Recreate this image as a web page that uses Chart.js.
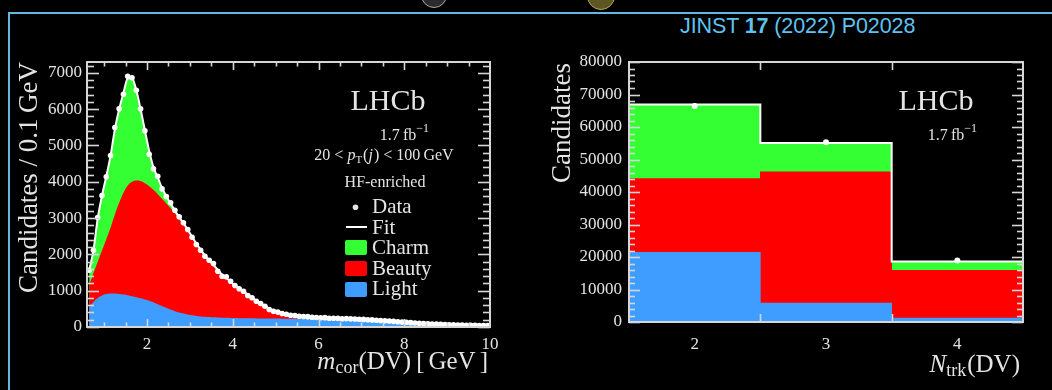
<!DOCTYPE html>
<html>
<head>
<meta charset="utf-8">
<script src="https://cdn.jsdelivr.net/npm/chart.js@4.4.1/dist/chart.umd.min.js"></script>
<style>
  html, body { margin: 0; padding: 0; background: #000; width: 1052px; height: 390px; overflow: hidden; }
  #frame { position: absolute; left: 8px; top: 12px; width: 1100px; height: 420px;
           border-left: 2px solid #63b7e2; border-top: 2px solid #63b7e2; }
  #ref { position: absolute; left: 680px; top: 14px; font: 21.5px "Liberation Sans", Arial, sans-serif;
         color: #5ec3f0; letter-spacing: -0.1px; white-space: nowrap; }
  .dome { position: absolute; border-radius: 50%; }
  #dome1 { left: 421px; top: -18px; width: 24px; height: 24px; background: #2b2b2b; border: 1.5px solid #a8a8a8; }
  #dome2 { left: 587px; top: -18px; width: 26px; height: 26px; background: #5b5622; border: 1.5px solid #b5a652; }
  #mass { position: absolute; left: 0; top: 0; }
  #ntrk { position: absolute; left: 520px; top: 0; }
</style>
</head>
<body>
<div class="dome" id="dome1"></div>
<div class="dome" id="dome2"></div>
<div id="frame"></div>
<div id="ref">JINST <b>17</b> (2022) P02028</div>
<canvas id="mass" width="520" height="390"></canvas>
<canvas id="ntrk" width="532" height="390"></canvas>
<script>
// ---------- corrected-mass spectrum (0.1 GeV bins) ----------
const massBins = [
  0.65, 0.75, 0.85, 0.95,
  1.05, 1.15, 1.25, 1.35, 1.45, 1.55, 1.65, 1.75, 1.85, 1.95,
  2.05, 2.15, 2.25, 2.35, 2.45, 2.55, 2.65, 2.75, 2.85, 2.95,
  3.05, 3.15, 3.25, 3.35, 3.45, 3.55, 3.65, 3.75, 3.85, 3.95,
  4.05, 4.15, 4.25, 4.35, 4.45, 4.55, 4.65, 4.75, 4.85, 4.95,
  5.05, 5.15, 5.25, 5.35, 5.45, 5.55, 5.65, 5.75, 5.85, 5.95,
  6.05, 6.15, 6.25, 6.35, 6.45, 6.55, 6.65, 6.75, 6.85, 6.95,
  7.05, 7.15, 7.25, 7.35, 7.45, 7.55, 7.65, 7.75, 7.85, 7.95,
  8.05, 8.15, 8.25, 8.35, 8.45, 8.55, 8.65, 8.75, 8.85, 8.95,
  9.05, 9.15, 9.25, 9.35, 9.45, 9.55, 9.65, 9.75, 9.85, 9.95
];
const massData = [
  1564, 2115, 3016, 3622,
  4137, 4723, 5494, 6009, 6412, 6907, 6863, 6522, 6009, 5403,
  4759, 4357, 4153, 3806, 3594, 3421, 3217, 3035, 2870, 2685,
  2473, 2272, 2115, 1950, 1840, 1749, 1537, 1399, 1383, 1261,
  1143, 1052, 986, 868, 804, 711, 647, 573, 482, 435,
  410, 372, 350, 322, 318, 296, 290, 285, 268, 262,
  255, 258, 243, 240, 238, 229, 232, 224, 222, 214,
  210, 200, 196, 185, 180, 170, 165, 155, 146, 135,
  130, 120, 112, 104, 97, 90, 84, 78, 72, 68,
  62, 60, 56, 52, 50, 48, 45, 43, 41, 40
];
const massLight = [
  560, 690, 800, 870,
  910, 925, 922, 910, 895, 875, 850, 820, 790, 760,
  725, 680, 630, 580, 530, 480, 435, 400, 370, 345,
  322, 305, 292, 282, 274, 267, 261, 256, 252, 249,
  246, 244, 242, 240, 238, 237, 235, 234, 233, 232,
  231, 230, 229, 229, 228, 227, 227, 226, 226, 225,
  224, 223, 222, 220, 218, 216, 213, 210, 206, 202,
  197, 192, 186, 180, 173, 165, 158, 150, 141, 132,
  124, 116, 108, 100, 93, 86, 80, 74, 69, 64,
  60, 56, 53, 50, 47, 45, 43, 41, 39, 37
];
const massBeauty = [
  590, 790, 1000, 1240,
  1510, 1815, 2180, 2510, 2800, 3020, 3150, 3215, 3230, 3200,
  3155, 3100, 3030, 2950, 2870, 2790, 2695, 2590, 2470, 2325,
  2150, 1975, 1820, 1670, 1540, 1430, 1295, 1170, 1085, 985,
  890, 800, 725, 640, 560, 475, 405, 335, 270, 218,
  165, 130, 108, 92, 78, 67, 58, 50, 42, 37,
  31, 26, 22, 19, 16, 14, 12, 11, 10, 9,
  8, 8, 7, 7, 7, 6, 6, 6, 5, 5,
  5, 5, 4, 4, 4, 4, 3, 3, 3, 3,
  3, 3, 3, 2, 2, 2, 2, 2, 2, 2
];
const massCharm = [
  410, 630, 1190, 1510,
  1730, 1980, 2350, 2580, 2750, 2950, 2860, 2485, 1980, 1460,
  970, 620, 460, 300, 200, 130, 80, 40, 20, 10,
  20, 20, 20, 20, 15, 15, 15, 15, 15, 15,
  15, 15, 15, 12, 12, 12, 10, 10, 10, 10,
  9, 10, 8, 7, 6, 6, 5, 4, 4, 3,
  3, 3, 3, 3, 3, 3, 3, 3, 3, 3,
  2, 2, 2, 2, 2, 2, 2, 2, 2, 2,
  2, 2, 2, 2, 2, 2, 2, 2, 2, 2,
  1, 1, 1, 1, 1, 1, 1, 1, 1, 1
];
const massTickLabels = [2, 4, 6, 8, 10];
const massCountLabels = [0, 1000, 2000, 3000, 4000, 5000, 6000, 7000];

// ---------- track multiplicity ----------
const ntrkBins = [2, 3, 4];
const ntrkLight = [21400, 5800, 1200];
const ntrkBeauty = [22700, 40400, 14700];
const ntrkCharm = [22800, 8900, 2700];
const ntrkData = [66500, 55300, 18900];
const ntrkCountLabels = [0, 10000, 20000, 30000, 40000, 50000, 60000, 70000, 80000];

// ---------- styling ----------
const GREEN = '#33ff33', RED = '#ff0000', BLUE = '#3f9dff';
const INK = '#e4e4e4', AXIS = '#d6d6d6';
const SERIF = '"Liberation Serif", "DejaVu Serif", serif';

const pts = (xs, ys) => xs.map((x, i) => ({ x, y: ys[i] }));
const sumArr = (a, b) => a.map((v, i) => v + b[i]);

// Draw a run of text pieces with their own fonts / vertical shifts.
function rich(ctx, parts, x, y, align) {
  let w = 0;
  const ws = parts.map(p => { ctx.font = p[1]; const m = ctx.measureText(p[0]).width + (p[3] || 0); w += m; return m; });
  let cx = align === 'right' ? x - w : align === 'center' ? x - w / 2 : x;
  ctx.textAlign = 'left';
  ctx.textBaseline = 'alphabetic';
  parts.forEach((p, i) => { ctx.font = p[1]; ctx.fillText(p[0], cx, y + (p[2] || 0)); cx += ws[i]; });
}

function seg(ctx, x1, y1, x2, y2) { ctx.beginPath(); ctx.moveTo(x1, y1); ctx.lineTo(x2, y2); ctx.stroke(); }

// Box frame with inward-pointing ticks on all four sides.
function drawFrame(chart, spec) {
  const { ctx, chartArea: a, scales: { x, y } } = chart;
  ctx.save();
  ctx.strokeStyle = AXIS;
  ctx.lineWidth = 1.6;
  for (const t of spec.yTicks) {
    const py = Math.round(y.getPixelForValue(t.v)) + 0.5;
    seg(ctx, a.left, py, a.left + t.len, py);
    seg(ctx, a.right, py, a.right - t.len, py);
  }
  for (const t of spec.xTicks) {
    const px = Math.round(x.getPixelForValue(t.v)) + 0.5;
    seg(ctx, px, a.bottom, px, a.bottom - t.len);
    seg(ctx, px, a.top, px, a.top + t.len);
  }
  ctx.lineWidth = 2;
  ctx.strokeRect(a.left, a.top, a.right - a.left, a.bottom - a.top);
  ctx.restore();
}

function tickList(from, to, step, majorEvery, majorLen, minorLen) {
  const out = [];
  for (let i = 0; from + i * step <= to + 1e-9; i++) {
    const v = +(from + i * step).toFixed(6);
    out.push({ v, len: (i % majorEvery === 0) ? majorLen : minorLen });
  }
  return out;
}

// ---------- left: corrected mass ----------
const lightTop = massLight.slice();
const beautyTop = sumArr(massLight, massBeauty);
const fitTotal = sumArr(beautyTop, massCharm);

const massFrame = {
  yTicks: tickList(0, 7200, 200, 5, 12, 7),
  xTicks: tickList(1.0, 9.5, 0.5, 2, 4, 4).map(t => ({ v: t.v, len: (t.v % 2 === 0) ? 8 : 4.5 }))
};

const massDecor = {
  id: 'massDecor',
  afterDraw(chart) {
    drawFrame(chart, massFrame);
    const ctx = chart.ctx;
    ctx.save();
    ctx.fillStyle = INK;
    rich(ctx, [['LHCb', `30px ${SERIF}`]], 388, 110, 'center');
    rich(ctx, [['1.7\u2009fb', `16px ${SERIF}`], ['\u22121', `12px ${SERIF}`, -8]], 429, 140, 'right');
    rich(ctx, [
      ['20 < ', `16px ${SERIF}`], ['p', `italic 16px ${SERIF}`], ['T', `11px ${SERIF}`, 3, 1],
      ['(', `16px ${SERIF}`], ['j', `italic 16px ${SERIF}`, 0, 1], [') < 100\u2009GeV', `16px ${SERIF}`]
    ], 384, 160, 'center');
    rich(ctx, [['HF-enriched', `16px ${SERIF}`]], 385, 187, 'center');

    // legend
    const lf = `21px ${SERIF}`;
    ctx.beginPath(); ctx.arc(355.5, 207.3, 2.8, 0, Math.PI * 2); ctx.fill();
    rich(ctx, [['Data', lf]], 372, 213, 'left');
    ctx.strokeStyle = '#ffffff'; ctx.lineWidth = 2;
    seg(ctx, 346, 227, 367, 227);
    rich(ctx, [['Fit', lf]], 372, 233.5, 'left');
    const boxes = [['Charm', GREEN, 240, 254], ['Beauty', RED, 261, 274.5], ['Light', BLUE, 282, 295]];
    for (const [name, col, top, base] of boxes) {
      ctx.fillStyle = col;
      ctx.beginPath(); ctx.roundRect(345, top, 22, 15, 2); ctx.fill();
      ctx.fillStyle = INK;
      rich(ctx, [[name, lf]], 372, base, 'left');
    }

    // axis titles
    ctx.save();
    ctx.translate(37, 62);
    ctx.rotate(-Math.PI / 2);
    rich(ctx, [['Candidates / 0.1\u2009GeV', `27px ${SERIF}`]], 0, 0, 'right');
    ctx.restore();
    rich(ctx, [
      ['m', `italic 25px ${SERIF}`], ['cor', `18px ${SERIF}`, 4],
      ['(DV)', `25px ${SERIF}`, 0, 5], ['[', `25px ${SERIF}`, 0, 4], ['GeV', `25px ${SERIF}`, 0, 4], [']', `25px ${SERIF}`]
    ], 488, 369, 'right');
    ctx.restore();
  }
};

new Chart(document.getElementById('mass'), {
  type: 'line',
  data: {
    datasets: [
      { label: 'Data', data: pts(massBins, massData), showLine: false, pointRadius: 2.8,
        pointBackgroundColor: '#ffffff', pointBorderWidth: 0, order: 0 },
      { label: 'Fit', data: pts(massBins, fitTotal), borderColor: '#ffffff', borderWidth: 2,
        pointRadius: 0, fill: false, cubicInterpolationMode: 'monotone', order: 1 },
      { label: 'Light', data: pts(massBins, lightTop), borderWidth: 0, borderColor: 'rgba(0,0,0,0)',
        backgroundColor: BLUE, fill: 'origin', pointRadius: 0, cubicInterpolationMode: 'monotone', order: 2 },
      { label: 'Beauty', data: pts(massBins, beautyTop), borderWidth: 0, borderColor: 'rgba(0,0,0,0)',
        backgroundColor: RED, fill: 'origin', pointRadius: 0, cubicInterpolationMode: 'monotone', order: 3 },
      { label: 'Charm', data: pts(massBins, fitTotal), borderWidth: 0, borderColor: 'rgba(0,0,0,0)',
        backgroundColor: GREEN, fill: 'origin', pointRadius: 0, cubicInterpolationMode: 'monotone', order: 4 }
    ]
  },
  options: {
    responsive: false, animation: false,
    layout: { padding: { top: 62, right: 30, bottom: 0, left: 0 } },
    plugins: { legend: { display: false }, tooltip: { enabled: false } },
    scales: {
      x: {
        type: 'linear', min: 0.6, max: 10,
        grid: { display: false, drawTicks: false }, border: { display: false },
        afterBuildTicks: s => { s.ticks = massTickLabels.map(v => ({ value: v })); },
        afterFit: s => { s.height = 63; },
        ticks: { color: INK, font: { family: SERIF, size: 17 }, padding: 7, maxRotation: 0, autoSkip: false,
                 callback: v => String(v) }
      },
      y: {
        type: 'linear', min: 0, max: 7300,
        grid: { display: false, drawTicks: false }, border: { display: false },
        afterBuildTicks: s => { s.ticks = massCountLabels.map(v => ({ value: v })); },
        afterFit: s => { s.width = 87; },
        ticks: { color: INK, font: { family: SERIF, size: 17 }, padding: 5, autoSkip: false,
                 callback: v => String(v) }
      }
    }
  },
  plugins: [massDecor]
});

// ---------- right: number of tracks ----------
const ntrkTotal = sumArr(sumArr(ntrkLight, ntrkBeauty), ntrkCharm);
const ntrkOutline = [];
ntrkBins.forEach((b, i) => { ntrkOutline.push({ x: b - 0.5, y: ntrkTotal[i] }, { x: b + 0.5, y: ntrkTotal[i] }); });

const ntrkFrame = {
  yTicks: tickList(0, 80000, 2000, 5, 11, 6),
  xTicks: ntrkBins.slice(0, -1).map(b => ({ v: b + 0.5, len: 8 }))
};

const ntrkDecor = {
  id: 'ntrkDecor',
  afterDraw(chart) {
    drawFrame(chart, ntrkFrame);
    const ctx = chart.ctx;
    ctx.save();
    ctx.fillStyle = INK;
    rich(ctx, [['LHCb', `30px ${SERIF}`]], 416, 110, 'center');
    rich(ctx, [['1.7\u2009fb', `16px ${SERIF}`], ['\u22121', `12px ${SERIF}`, -8]], 457, 140, 'right');
    ctx.save();
    ctx.translate(50, 63);
    ctx.rotate(-Math.PI / 2);
    rich(ctx, [['Candidates', `27px ${SERIF}`]], 0, 0, 'right');
    ctx.restore();
    rich(ctx, [['N', `italic 25px ${SERIF}`], ['trk', `18px ${SERIF}`, 4, 1], ['(DV)', `25px ${SERIF}`]], 500, 372, 'right');
    ctx.restore();
  }
};

new Chart(document.getElementById('ntrk'), {
  type: 'bar',
  data: {
    datasets: [
      { type: 'line', label: 'Data', data: pts(ntrkBins, ntrkData), showLine: false, pointRadius: 3,
        pointBackgroundColor: '#ffffff', pointBorderWidth: 0, stack: 'data', order: 0 },
      { type: 'line', label: 'Fit', data: ntrkOutline, borderColor: '#ffffff', borderWidth: 2,
        pointRadius: 0, fill: false, stack: 'outline', order: 1 },
      { label: 'Light', data: pts(ntrkBins, ntrkLight), backgroundColor: BLUE, stack: 'fit', order: 2,
        barPercentage: 1, categoryPercentage: 1, borderWidth: 0 },
      { label: 'Beauty', data: pts(ntrkBins, ntrkBeauty), backgroundColor: RED, stack: 'fit', order: 3,
        barPercentage: 1, categoryPercentage: 1, borderWidth: 0 },
      { label: 'Charm', data: pts(ntrkBins, ntrkCharm), backgroundColor: GREEN, stack: 'fit', order: 4,
        barPercentage: 1, categoryPercentage: 1, borderWidth: 0 }
    ]
  },
  options: {
    responsive: false, animation: false,
    layout: { padding: { top: 62, right: 29, bottom: 0, left: 0 } },
    plugins: { legend: { display: false }, tooltip: { enabled: false } },
    scales: {
      x: {
        type: 'linear', min: 1.5, max: 4.5, stacked: true, offset: false,
        grid: { display: false, drawTicks: false }, border: { display: false },
        afterBuildTicks: s => { s.ticks = ntrkBins.map(v => ({ value: v })); },
        afterFit: s => { s.height = 68; },
        ticks: { color: INK, font: { family: SERIF, size: 17 }, padding: 12, maxRotation: 0, autoSkip: false,
                 callback: v => String(v) }
      },
      y: {
        type: 'linear', min: 0, max: 80000, stacked: true,
        grid: { display: false, drawTicks: false }, border: { display: false },
        afterBuildTicks: s => { s.ticks = ntrkCountLabels.map(v => ({ value: v })); },
        afterFit: s => { s.width = 109; },
        ticks: { color: INK, font: { family: SERIF, size: 17 }, padding: 7, autoSkip: false,
                 callback: v => String(v) }
      }
    }
  },
  plugins: [ntrkDecor]
});
</script>
</body>
</html>
